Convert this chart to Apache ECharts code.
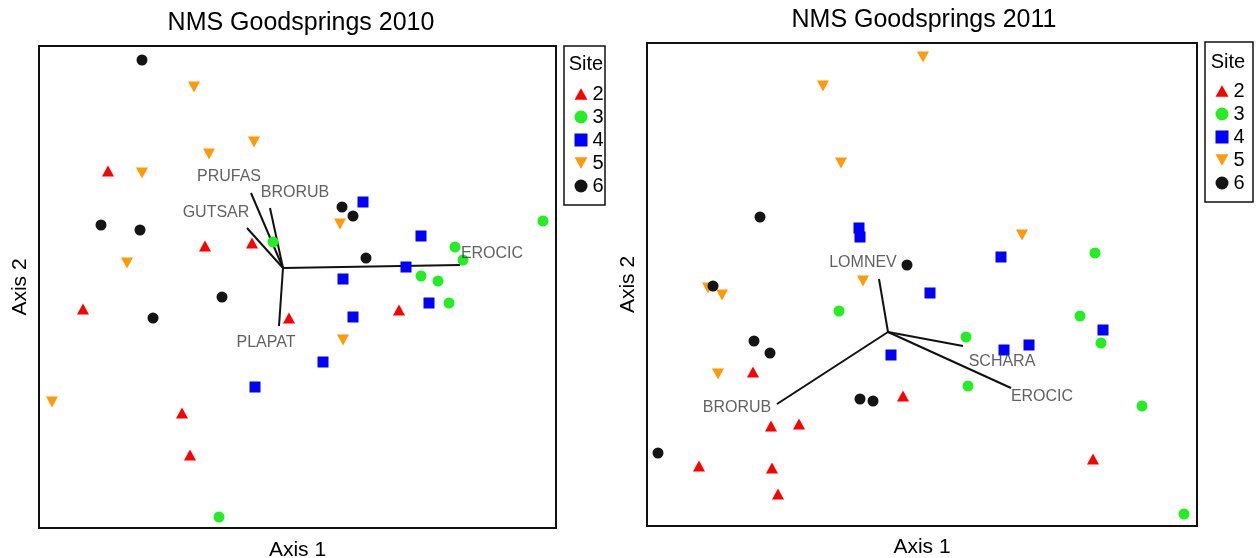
<!DOCTYPE html>
<html><head><meta charset="utf-8">
<script src="https://cdn.jsdelivr.net/npm/echarts@6/dist/echarts.min.js"></script>
<style>html,body{margin:0;padding:0;background:#fff}#c{width:1259px;height:558px}</style>
</head><body><div id="c"></div>
<script>
// ---- Data (NMS site scores, [Axis 1, Axis 2]) ----
const sites = ['2', '3', '4', '5', '6'];
const titles = ['NMS Goodsprings 2010', 'NMS Goodsprings 2011'];

// 2010
const y2010_site2 = [[-1.75,0.97],[-0.78,0.22],[-0.31,0.25],[-2.00,-0.41],[0.06,-0.50],[1.16,-0.42],[-1.01,-1.45],[-0.93,-1.87]];
const y2010_site3 = [[-0.10,0.26],[1.72,0.21],[1.80,0.08],[1.38,-0.08],[1.55,-0.13],[1.66,-0.35],[2.60,0.47],[-0.64,-2.49]];
const y2010_site4 = [[0.80,0.66],[1.38,0.32],[1.23,0.01],[0.60,-0.11],[1.46,-0.35],[0.70,-0.49],[0.40,-0.94],[-0.28,-1.19]];
const y2010_site5 = [[-0.89,1.81],[-0.29,1.26],[-0.74,1.14],[-1.41,0.95],[-1.56,0.05],[0.57,0.44],[0.60,-0.72],[-2.31,-1.34]];
const y2010_site6 = [[-1.41,2.08],[-1.82,0.43],[-1.43,0.38],[0.59,0.61],[0.70,0.52],[0.83,0.10],[-0.61,-0.29],[-1.30,-0.50]];
const y2010_vecNames = ['PRUFAS', 'BRORUB', 'GUTSAR', 'EROCIC', 'PLAPAT'];
const y2010_vecTips = [[-0.32,0.75],[-0.13,0.60],[-0.36,0.40],[1.77,0.03],[-0.04,-0.58]];
const y2010_vecLabelAt = [[-0.54,0.91],[0.12,0.75],[-0.67,0.55],[2.09,0.14],[-0.17,-0.75]];

// 2011
const y2011_site2 = [[-1.35,-0.40],[0.15,-0.64],[-1.17,-0.94],[-0.89,-0.92],[-1.89,-1.34],[-1.16,-1.36],[-1.10,-1.62],[2.05,-1.27]];
const y2011_site3 = [[-0.49,0.21],[0.78,-0.05],[0.80,-0.54],[2.07,0.79],[1.92,0.16],[2.13,-0.11],[2.54,-0.74],[2.96,-1.82]];
const y2011_site4 = [[-0.29,1.04],[-0.28,0.95],[1.13,0.75],[0.42,0.39],[0.03,-0.23],[1.16,-0.18],[1.41,-0.13],[2.15,0.02]];
const y2011_site5 = [[0.35,2.75],[-0.65,2.46],[-0.47,1.69],[1.34,0.97],[-1.80,0.44],[-1.66,0.37],[-0.25,0.51],[-1.70,-0.42]];
const y2011_site6 = [[-1.28,1.15],[0.19,0.67],[-1.75,0.46],[-1.34,-0.09],[-1.18,-0.21],[-0.28,-0.67],[-0.15,-0.69],[-2.30,-1.21]];
const y2011_vecNames = ['LOMNEV', 'SCHARA', 'EROCIC', 'BRORUB'];
const y2011_vecTips = [[-0.09,0.53],[0.75,-0.14],[1.23,-0.56],[-1.11,-0.72]];
const y2011_vecLabelAt = [[-0.25,0.69],[1.14,-0.30],[1.54,-0.65],[-1.51,-0.76]];

// axis extents (score units)
const x2010Range = [-2.44, 2.73], y2010Range = [-2.60, 2.22];
const x2011Range = [-2.41, 3.09], y2011Range = [-1.94, 2.89];

// ---- Styles ----
const FONT = 'Liberation Sans, Arial, sans-serif';
const siteColors = {'2':'#ff0000','3':'#22ee22','4':'#0000ff','5':'#ff9a0a','6':'#141414'};
const UP = 'path://M5,0L10,9L0,9Z';
const DOWN = 'path://M0,0L10,0L5,9Z';
const siteSymbols = {'2':UP,'3':'circle','4':'rect','5':DOWN,'6':'circle'};
const siteSizes = {'2':[12,11],'3':11,'4':11,'5':[12,11],'6':11};

const panels = [
  {sites:[y2010_site2,y2010_site3,y2010_site4,y2010_site5,y2010_site6], names:y2010_vecNames, tips:y2010_vecTips, labs:y2010_vecLabelAt},
  {sites:[y2011_site2,y2011_site3,y2011_site4,y2011_site5,y2011_site6], names:y2011_vecNames, tips:y2011_vecTips, labs:y2011_vecLabelAt}
];

const series = [];
panels.forEach((p, pi) => {
  series.push({
    type:'lines', name:'vectors'+pi, coordinateSystem:'cartesian2d', xAxisIndex:pi, yAxisIndex:pi,
    polyline:false, silent:true,
    lineStyle:{color:'#111', width:2, opacity:1},
    data: p.tips.map(t => ({coords:[[0,0], t]}))
  });
  series.push({
    type:'scatter', name:'vecLabels'+pi, xAxisIndex:pi, yAxisIndex:pi, silent:true,
    symbolSize:1, itemStyle:{color:'rgba(0,0,0,0)'},
    label:{show:true, position:'inside', formatter:'{b}', color:'#3a3a3a', fontSize:16, fontFamily:FONT},
    data: p.labs.map((l, i) => ({name:p.names[i], value:l}))
  });
  sites.forEach((s, si) => {
    series.push({
      type:'scatter', name:s, xAxisIndex:pi, yAxisIndex:pi,
      symbol:siteSymbols[s], symbolSize:siteSizes[s],
      itemStyle:{color:siteColors[s], opacity:1},
      data:p.sites[si]
    });
  });
});

const axisCommon = {type:'value', axisLine:{show:false}, axisTick:{show:false}, axisLabel:{show:false}, splitLine:{show:false},
  nameLocation:'middle', nameTextStyle:{color:'#000', fontSize:21, fontFamily:FONT}};

const legendCommon = {data:sites, orient:'vertical', itemWidth:13, itemHeight:13, itemGap:3, padding:0, selectedMode:false,
  textStyle:{color:'#000', fontSize:20, lineHeight:20, fontFamily:FONT}};

const option = {
  animation:false,
  backgroundColor:'#fff',
  title:[
    {text:titles[0], left:296, top:6, textAlign:'center', textStyle:{color:'#000', fontSize:25, fontWeight:'normal', fontFamily:FONT}},
    {text:titles[1], left:919, top:3, textAlign:'center', textStyle:{color:'#000', fontSize:25, fontWeight:'normal', fontFamily:FONT}}
  ],
  grid:[
    {left:39, top:46, width:517, height:482, show:true, borderColor:'#111', borderWidth:2, backgroundColor:'#fff', containLabel:false, outerBoundsMode:'none'},
    {left:647, top:43, width:550, height:483, show:true, borderColor:'#111', borderWidth:2, backgroundColor:'#fff', containLabel:false, outerBoundsMode:'none'}
  ],
  xAxis:[
    Object.assign({}, axisCommon, {gridIndex:0, min:x2010Range[0], max:x2010Range[1], name:'Axis 1', nameGap:12}),
    Object.assign({}, axisCommon, {gridIndex:1, min:x2011Range[0], max:x2011Range[1], name:'Axis 1', nameGap:11})
  ],
  yAxis:[
    Object.assign({}, axisCommon, {gridIndex:0, min:y2010Range[0], max:y2010Range[1], name:'Axis 2', nameGap:8}),
    Object.assign({}, axisCommon, {gridIndex:1, min:y2011Range[0], max:y2011Range[1], name:'Axis 2', nameGap:8})
  ],
  legend:[
    Object.assign({}, legendCommon, {left:574.5, top:84}),
    Object.assign({}, legendCommon, {left:1215.5, top:81})
  ],
  graphic:[
    {type:'rect', shape:{x:564, y:46, width:41, height:159}, style:{fill:'#fff', stroke:'#111', lineWidth:1.5}, z:-1},
    {type:'rect', shape:{x:1205, y:42, width:48, height:160}, style:{fill:'#fff', stroke:'#111', lineWidth:1.5}, z:-1},
    {type:'text', x:586, y:64, style:{text:'Site', fill:'#000', fontSize:20, fontFamily:FONT, align:'center', verticalAlign:'middle'}},
    {type:'text', x:1228, y:62, style:{text:'Site', fill:'#000', fontSize:20, fontFamily:FONT, align:'center', verticalAlign:'middle'}}
  ],
  series:series
};

const chart = echarts.init(document.getElementById('c'), null, {renderer:'canvas'});
chart.setOption(option);
</script>
</body></html>
